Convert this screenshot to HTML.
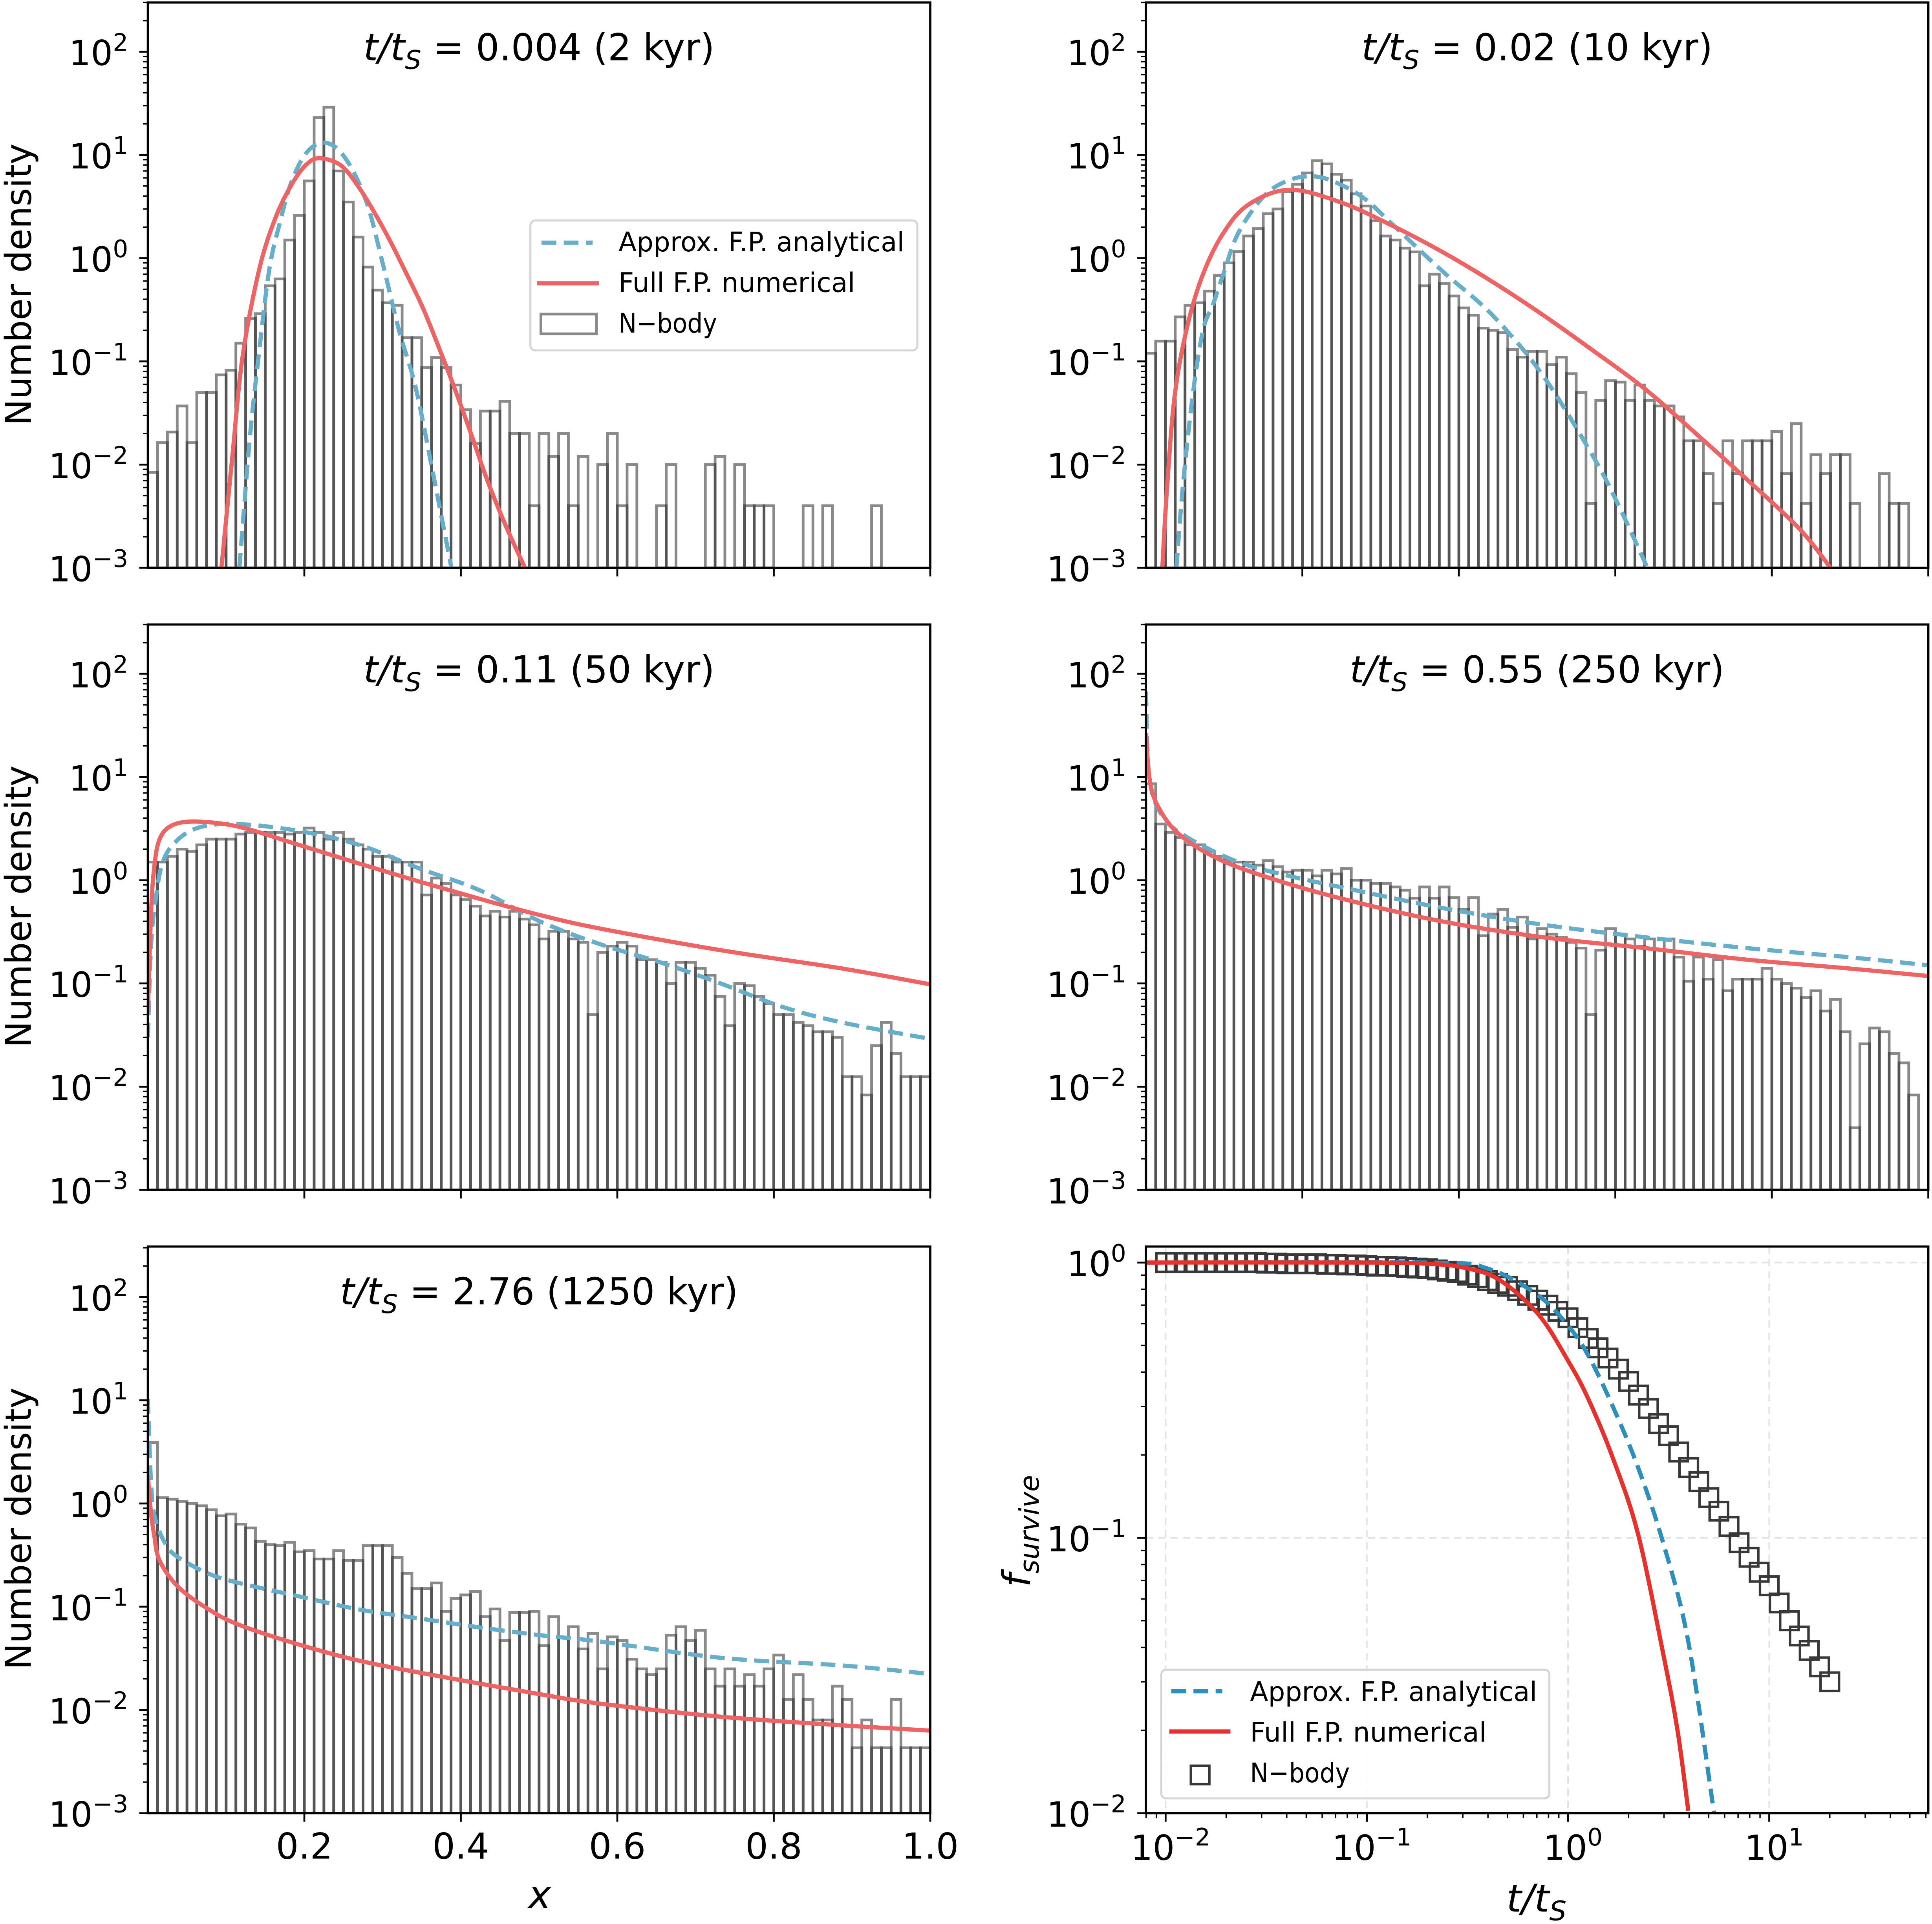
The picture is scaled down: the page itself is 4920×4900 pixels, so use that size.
<!DOCTYPE html>
<html><head><meta charset="utf-8">
<style>
html,body{margin:0;padding:0;background:#fff;}
svg{display:block;}
text{font-family:"DejaVu Sans","Liberation Sans",sans-serif;fill:#000;}
</style></head>
<body>
<svg id="fig" xmlns="http://www.w3.org/2000/svg" width="4920" height="4900" viewBox="0 0 1568 1562" preserveAspectRatio="none">
<rect x="0" y="0" width="1568" height="1562" fill="#fff"/>
</svg>
<script>
// ===== Histogram data (80 bins over x in [0,1]) =====
const hist1 = [0.0084,0.0163,0.0207,0.037,0.0163,0.05,0.05,0.074,0.082,0.15,
0.26,0.29,0.54,0.63,1.5,2.6,5.6,23,29,7,
3.5,1.6,0.82,0.49,0.37,0.35,0.17,0.17,0.087,0.109,
0.087,0.059,0.034,0.016,0.033,0.033,0.041,0.02,0.02,0.004,
0.02,0.012,0.02,0.004,0.012,0,0.01,0.02,0.004,0.01,
0,0,0.004,0.01,0,0,0,0.01,0.012,0,
0.01,0.004,0.004,0.004,0,0,0,0.004,0,0.004,
0,0,0,0,0.004,0,0,0,0,0];
const hist2 = [0.12,0.157,0.157,0.27,0.35,0.37,0.48,0.68,0.9,1.16,
1.64,1.94,2.7,3.0,4.4,5.2,6.7,8.8,8.2,6.5,
5.7,4.2,3.2,2.3,1.64,1.5,1.25,1.15,0.54,0.7,
0.57,0.43,0.33,0.28,0.21,0.2,0.19,0.13,0.11,0.125,
0.125,0.093,0.11,0.076,0.05,0.0042,0.042,0.065,0.063,0.042,
0.059,0.042,0.037,0.037,0.029,0.017,0.017,0.0082,0.0042,0.017,
0.0082,0.017,0.017,0.017,0.021,0.0082,0.025,0.0042,0.0125,0.0082,
0.0125,0.0125,0.0042,0,0,0.0082,0.0042,0.0042,0,0];
const hist3 = [1.5,1.5,1.7,2.0,1.9,2.2,2.5,2.5,2.5,2.8,
2.9,2.9,2.9,2.9,2.8,2.9,3.2,2.9,2.5,2.9,
2.5,2.2,2.0,1.7,1.7,1.5,1.5,1.5,0.72,1.05,
0.93,0.72,0.65,0.56,0.45,0.5,0.44,0.5,0.42,0.37,
0.27,0.32,0.32,0.27,0.25,0.05,0.2,0.23,0.25,0.23,
0.17,0.17,0.16,0.1,0.16,0.16,0.14,0.12,0.075,0.039,
0.1,0.095,0.075,0.064,0.05,0.05,0.042,0.039,0.034,0.034,
0.03,0.0125,0.0125,0.0083,0.025,0.042,0.021,0.0125,0.0125,0.0125];
const hist4 = [8.6,3.5,2.9,2.6,2.2,2.2,1.9,1.7,1.55,1.5,
1.5,1.4,1.55,1.35,1.2,1.25,1.25,1.1,1.25,1.15,
1.3,1.0,1.0,0.93,0.93,0.86,0.8,0.67,0.86,0.67,
0.86,0.68,0.52,0.68,0.29,0.47,0.52,0.35,0.44,0.27,
0.34,0.30,0.28,0.25,0.22,0.05,0.21,0.34,0.30,0.27,
0.23,0.27,0.21,0.27,0.18,0.105,0.18,0.11,0.17,0.085,
0.11,0.11,0.11,0.14,0.11,0.1,0.09,0.073,0.085,0.054,
0.07,0.034,0.004,0.026,0.037,0.034,0.021,0.017,0.0083,0];
const hist5 = [3.9,1.14,1.1,1.05,1.0,0.95,0.87,0.76,0.79,0.63,
0.58,0.43,0.40,0.39,0.42,0.34,0.35,0.29,0.29,0.35,
0.28,0.28,0.39,0.39,0.39,0.3,0.21,0.15,0.15,0.17,
0.09,0.12,0.13,0.14,0.08,0.095,0.047,0.088,0.088,0.09,
0.042,0.08,0.05,0.064,0.039,0.055,0.025,0.051,0.047,0.031,
0.025,0.022,0.025,0.053,0.064,0.047,0.059,0.025,0.017,0.025,
0.017,0.022,0.017,0.025,0.034,0.0126,0.022,0.0126,0.008,0.008,
0.017,0.0126,0.0043,0.008,0.0043,0.0043,0.0126,0.0043,0.0043,0.0043];

// ===== Curve data (x, density) =====
const c1RedX = [0.094,0.108,0.121,0.142,0.163,0.184,0.202,0.219,0.246,0.267,0.288,0.309,0.33,0.35,0.367,0.392,0.414,0.434,0.458,0.482];
const c1RedY = [0.001,0.012,0.11,0.76,2.45,5.2,8.0,9.3,8.0,5.2,2.9,1.5,0.72,0.35,0.17,0.055,0.019,0.007,0.0025,0.001];
const c1BlueX = [0.117,0.13,0.142,0.155,0.168,0.184,0.205,0.23,0.255,0.28,0.3,0.321,0.342,0.363,0.388];
const c1BlueY = [0.001,0.017,0.12,0.76,2.1,5.6,11,13,8.7,3.4,0.9,0.2,0.057,0.0094,0.001];
const c2RedX = [0.021,0.027,0.037,0.053,0.073,0.099,0.131,0.183,0.248,0.313,0.378,0.443,0.508,0.573,0.638,0.703,0.768,0.835,0.875];
const c2RedY = [0.001,0.0059,0.048,0.22,0.7,1.75,3.3,4.6,3.5,2.1,1.16,0.59,0.28,0.125,0.054,0.02,0.0072,0.0024,0.001];
const c2BlueX = [0.039,0.047,0.06,0.073,0.086,0.099,0.118,0.151,0.183,0.216,0.248,0.281,0.313,0.378,0.443,0.508,0.573,0.605,0.641];
const c2BlueY = [0.001,0.0059,0.048,0.2,0.36,0.7,1.75,4.0,5.7,6.2,5.2,3.7,2.2,0.76,0.28,0.072,0.0115,0.0039,0.001];
const c3RedX = [0,0.004,0.008,0.015,0.031,0.062,0.116,0.193,0.27,0.347,0.424,0.501,0.578,0.732,0.886,1.0];
const c3RedY = [0.054,0.47,1.3,2.5,3.4,3.7,3.3,2.2,1.45,0.97,0.66,0.46,0.34,0.21,0.14,0.098];
const c3BlueX = [0,0.004,0.009,0.019,0.039,0.069,0.116,0.193,0.27,0.347,0.424,0.501,0.578,0.655,0.732,0.809,0.886,1.0];
const c3BlueY = [0.03,0.23,0.57,1.5,2.5,3.3,3.5,3.0,2.2,1.3,0.8,0.4,0.24,0.16,0.1,0.06,0.042,0.029];
const c4RedX = [0,0.0045,0.0143,0.04,0.086,0.15,0.248,0.378,0.508,0.638,0.768,0.897,1.0];
const c4RedY = [26.6,9.8,5.4,2.9,1.7,1.1,0.67,0.4,0.28,0.22,0.17,0.14,0.118];
const c4BlueX = [0,0.0045,0.021,0.053,0.118,0.183,0.248,0.378,0.508,0.638,0.768,0.897,1.0];
const c4BlueY = [67,9.8,4.2,2.6,1.5,1.1,0.86,0.54,0.37,0.28,0.22,0.18,0.15];
const c5RedX = [0,0.004,0.008,0.015,0.039,0.077,0.116,0.193,0.27,0.347,0.424,0.501,0.578,0.732,0.886,1.0];
const c5RedY = [1.85,0.81,0.5,0.28,0.155,0.095,0.067,0.043,0.03,0.023,0.018,0.0142,0.0115,0.0086,0.0071,0.0063];
const c5BlueX = [0,0.004,0.009,0.023,0.039,0.077,0.116,0.193,0.27,0.347,0.424,0.501,0.578,0.732,0.886,1.0];
const c5BlueY = [10.3,1.6,0.73,0.4,0.3,0.21,0.17,0.126,0.094,0.077,0.063,0.053,0.046,0.032,0.027,0.0223];

// ===== Survival panel data =====
const survT = [0.0100,0.0112,0.0126,0.0141,0.0158,0.0178,0.0200,0.0224,0.0251,0.0282,
0.0316,0.0355,0.0398,0.0447,0.0501,0.0562,0.0631,0.0708,0.0794,0.0891,
0.100,0.112,0.126,0.141,0.158,0.178,0.200,0.224,0.251,0.282,
0.316,0.355,0.398,0.447,0.501,0.562,0.631,0.708,0.794,0.891,
1.00,1.12,1.26,1.41,1.58,1.78,2.00,2.24,2.51,2.82,
3.16,3.55,3.98,4.47,5.01,5.62,6.31,7.08,7.94,8.91,
10.0,11.2,12.6,14.1,15.8,17.8,20.0];
const survF = [1.0,1.0,1.0,1.0,1.0,1.0,1.0,1.0,1.0,1.0,
0.995,0.995,0.99,0.99,0.99,0.99,0.985,0.985,0.98,0.98,
0.975,0.97,0.97,0.965,0.96,0.955,0.95,0.94,0.93,0.92,
0.9,0.88,0.86,0.84,0.82,0.79,0.76,0.73,0.70,0.665,
0.63,0.58,0.53,0.49,0.45,0.41,0.37,0.33,0.295,0.26,
0.235,0.205,0.18,0.16,0.14,0.125,0.11,0.096,0.085,0.075,
0.067,0.058,0.05,0.044,0.039,0.034,0.030];
const fpRedT = [0.008,0.1,0.2,0.3,0.45,0.71,1.0,1.26,1.67,2.23,2.97,3.5,3.96];
const fpRedF = [1,1,0.99,0.96,0.87,0.65,0.44,0.32,0.195,0.103,0.038,0.02,0.0102];
const fpBlueT = [0.008,0.2,0.4,0.71,1.0,1.26,1.67,2.23,2.97,3.96,5.27,5.4];
const fpBlueF = [1,1,0.95,0.76,0.59,0.46,0.30,0.18,0.096,0.042,0.0105,0.0095];

const yTickExp = [-3,-2,-1,0,1,2];
const xTickVals = [0.2,0.4,0.6,0.8,1.0];
const xTickLabels = ["0.2","0.4","0.6","0.8","1.0"];
const sTickExpX = [-2,-1,0,1];
const sTickExpY = [-2,-1,0];
const titles = [["0.004","2"],["0.02","10"],["0.11","50"],["0.55","250"],["2.76","1250"]];

const NS = "http://www.w3.org/2000/svg";
const svg = document.getElementById('fig');
function mk(tag, attrs, parent){
  const e = document.createElementNS(NS, tag);
  for (const k in attrs) e.setAttribute(k, attrs[k]);
  (parent||svg).appendChild(e);
  return e;
}
const RED="#ee6464", BLUE="#67aecb", RED6="#e8302c", BLUE6="#2e8fbd";

const P = [
 {x:120,y:2,w:635,h:459},{x:930,y:2,w:635,h:459},
 {x:120,y:507,w:635,h:459},{x:930,y:507,w:635,h:459},
 {x:120,y:1012,w:635,h:460}
];
const DEC = 83.8;
function sx(p,v){return p.x + v*p.w;}
function sy(p,v){return p.y + p.h - (Math.log10(v)+3)*DEC;}

function spline(pts){
  let d = "M"+pts[0][0].toFixed(2)+","+pts[0][1].toFixed(2);
  for (let i=0;i<pts.length-1;i++){
    const p0=pts[Math.max(0,i-1)], p1=pts[i], p2=pts[i+1], p3=pts[Math.min(pts.length-1,i+2)];
    const c1x=p1[0]+(p2[0]-p0[0])/6, c1y=p1[1]+(p2[1]-p0[1])/6;
    const c2x=p2[0]-(p3[0]-p1[0])/6, c2y=p2[1]-(p3[1]-p1[1])/6;
    d += " C"+c1x.toFixed(2)+","+c1y.toFixed(2)+" "+c2x.toFixed(2)+","+c2y.toFixed(2)+" "+p2[0].toFixed(2)+","+p2[1].toFixed(2);
  }
  return d;
}

function sup(parent, x, y, base, exp, size, anchor){
  const t = mk('text', {x:x, y:y, 'font-size':size, 'text-anchor':anchor||'end'}, parent);
  t.appendChild(document.createTextNode(base));
  const s = mk('tspan', {'font-size':size*0.7, dy:-size*0.42}, t);
  s.textContent = exp;
  return t;
}

function title(g, p, vals){
  const cx = p.x + p.w/2, y = p.y + 47;
  const t = mk('text', {x:cx, y:y, 'font-size':30, 'text-anchor':'middle'}, g);
  
  
  const a = mk('tspan', {'font-style':'italic'}, t); a.textContent = "t/t";
  const b = mk('tspan', {'font-style':'italic','font-size':21, dy:7}, t); b.textContent = "S";
  const c = mk('tspan', {dy:-7}, t); c.textContent = " = " + vals[0] + " (" + vals[1] + " kyr)";
}

const hists = [hist1,hist2,hist3,hist4,hist5];
const curves = [[c1BlueX,c1BlueY,c1RedX,c1RedY],[c2BlueX,c2BlueY,c2RedX,c2RedY],[c3BlueX,c3BlueY,c3RedX,c3RedY],[c4BlueX,c4BlueY,c4RedX,c4RedY],[c5BlueX,c5BlueY,c5RedX,c5RedY]];

P.forEach((p, k) => {
  const g = mk('g', {});
  
  
  const clipId = 'clip'+k;
  const cp = mk('clipPath', {id:clipId}, g);
  mk('rect', {x:p.x, y:p.y, width:p.w, height:p.h}, cp);
  const bg = mk('g', {'clip-path':'url(#'+clipId+')'}, g);
  
  
  const data = hists[k]; const n = data.length;
  for (let i=0;i<n;i++){
    if (data[i] <= 0) continue;
    const x0 = sx(p, i/n), x1 = sx(p,(i+1)/n), yt = sy(p, data[i]);
    const r = mk('rect', {x:x0, y:yt, width:x1-x0, height:p.y+p.h-yt, fill:'none', stroke:'rgba(40,40,40,0.55)', 'stroke-width':2.2}, bg);
    
    
  }
  const cv = curves[k];
  const bp = cv[0].map((v,i)=>[sx(p,v), sy(p,cv[1][i])]);
  const rp = cv[2].map((v,i)=>[sx(p,v), sy(p,cv[3][i])]);
  const blue = mk('path', {d:spline(bp), fill:'none', stroke:BLUE, 'stroke-width':3.4, 'stroke-dasharray':'12,6', 'clip-path':'url(#'+clipId+')'}, g);
  
  
  const red = mk('path', {d:spline(rp), fill:'none', stroke:RED, 'stroke-width':3.4, 'clip-path':'url(#'+clipId+')'}, g);
  
  
  const fr = mk('rect', {x:p.x, y:p.y, width:p.w, height:p.h, fill:'none', stroke:'#000', 'stroke-width':1.8}, g);
  
  
  const yt = mk('g', {}, g);
  
  
  for (let e=-3;e<=2;e++){
    for (let m=1;m<10;m++){
      const v = m*Math.pow(10,e); const yy = sy(p,v);
      if (yy < p.y) continue;
      const L = m===1?7:4;
      mk('line', {x1:p.x-L, x2:p.x, y1:yy, y2:yy, stroke:'#000', 'stroke-width':m===1?1.5:1.1}, yt);
    }
  }
  yTickExp.forEach(e => {
    const lab = sup(yt, p.x-16, sy(p,Math.pow(10,e))+11, "10", e<0?("\u2212"+(-e)):String(e), 28, 'end');
    
    
  });
  const xt = mk('g', {}, g);
  
  
  xTickVals.forEach((v,i) => {
    const xx = sx(p,v);
    mk('line', {x1:xx, x2:xx, y1:p.y+p.h, y2:p.y+p.h+7, stroke:'#000', 'stroke-width':1.5}, xt);
    if (k===4){
      const t = mk('text', {x:xx, y:p.y+p.h+37, 'font-size':29, 'text-anchor':'middle'}, xt);
      t.textContent = xTickLabels[i];
      
      
    }
  });
  if (k%2===0){
    const yl = mk('text', {x:0, y:0, 'font-size':29, 'text-anchor':'middle', transform:'translate(25,'+(p.y+229)+') rotate(-90)', textLength:229, lengthAdjust:'spacingAndGlyphs'}, g);
    yl.textContent = "Number density";
    
    
  }
  title(g, p, titles[k]);
});

{
  const t = mk('text', {x:438, y:1549, 'font-size':31, 'text-anchor':'middle', 'font-style':'italic'});
  t.textContent = "x";
  
  
}

{
  const g = mk('g', {});
  
  
  mk('rect', {x:430.5, y:179, width:314, height:105.5, rx:4, fill:'#fff', stroke:'#d4d4d4', 'stroke-width':1.6}, g);
  mk('line', {x1:439.5, x2:481, y1:197, y2:197, stroke:BLUE, 'stroke-width':3.4, 'stroke-dasharray':'12,6'}, g);
  mk('line', {x1:436, x2:486, y1:230, y2:230, stroke:RED, 'stroke-width':3.4}, g);
  mk('rect', {x:439, y:255, width:45, height:16, fill:'none', stroke:'rgba(40,40,40,0.55)', 'stroke-width':2.2}, g);
  const L = [["Approx. F.P. analytical",204,232],["Full F.P. numerical",237,192],["N\u2212body",270,80]];
  L.forEach(l => {
    const t = mk('text', {x:502, y:l[1], 'font-size':22, textLength:l[2], lengthAdjust:'spacingAndGlyphs'}, g);
    t.textContent = l[0];
    
    
  });
}

{
  const p = {x:930, y:1012, w:635, h:460};
  const lxd = 163.3, lyd = 223.5, yTop = 1025;
  const X = t => 946 + (Math.log10(t)+2)*lxd;
  const Y = f => yTop - Math.log10(f)*lyd;
  const g = mk('g', {});
  
  
  const cp = mk('clipPath', {id:'clip6'}, g);
  mk('rect', {x:p.x, y:p.y, width:p.w, height:p.h}, cp);
  const gr = mk('g', {stroke:'#e3e3e3', 'stroke-width':1.3, 'stroke-dasharray':'6,4'}, g);
  
  
  sTickExpX.forEach(e => { const xx = X(Math.pow(10,e)); mk('line', {x1:xx,x2:xx,y1:p.y,y2:p.y+p.h}, gr); });
  sTickExpY.forEach(e => { const yy = Y(Math.pow(10,e)); mk('line', {x1:p.x,x2:p.x+p.w,y1:yy,y2:yy}, gr); });
  const sg = mk('g', {'clip-path':'url(#clip6)'}, g);
  
  
  survT.forEach((t,i) => {
    const cx = X(t), cy = Y(survF[i]);
    const r = mk('rect', {x:cx-7.5, y:cy-7.5, width:15, height:15, fill:'none', stroke:'#383838', 'stroke-width':2}, sg);
    
    
  });
  const bp = fpBlueT.map((t,i)=>[X(t),Y(fpBlueF[i])]);
  const rp = fpRedT.map((t,i)=>[X(t),Y(fpRedF[i])]);
  const b = mk('path', {d:spline(bp), fill:'none', stroke:BLUE6, 'stroke-width':3.4, 'stroke-dasharray':'12,6', 'clip-path':'url(#clip6)'}, g);
  
  
  const r = mk('path', {d:spline(rp), fill:'none', stroke:RED6, 'stroke-width':3.4, 'clip-path':'url(#clip6)'}, g);
  
  
  const fr = mk('rect', {x:p.x, y:p.y, width:p.w, height:p.h, fill:'none', stroke:'#000', 'stroke-width':1.8}, g);
  
  
  const xt = mk('g', {}, g);
  
  
  for (let e=-3;e<=1;e++){
    for (let m=1;m<10;m++){
      const xx = X(m*Math.pow(10,e));
      if (xx < p.x || xx > p.x+p.w) continue;
      const L = m===1?7:4;
      mk('line', {x1:xx,x2:xx,y1:p.y+p.h,y2:p.y+p.h+L, stroke:'#000','stroke-width':m===1?1.5:1.1}, xt);
    }
  }
  sTickExpX.forEach(e => {
    const lab = sup(xt, X(Math.pow(10,e))+4, 1510, "10", e<0?("\u2212"+(-e)):String(e), 28, 'middle');
    
    
  });
  const yt = mk('g', {}, g);
  
  
  for (let e=-2;e<=0;e++){
    for (let m=1;m<10;m++){
      const yy = Y(m*Math.pow(10,e));
      if (yy < p.y || yy > p.y+p.h+0.5) continue;
      const L = m===1?7:4;
      mk('line', {x1:p.x-L,x2:p.x,y1:yy,y2:yy, stroke:'#000','stroke-width':m===1?1.5:1.1}, yt);
    }
  }
  sTickExpY.forEach(e => {
    const lab = sup(yt, 914, Y(Math.pow(10,e))+11, "10", e<0?("\u2212"+(-e)):String(e), 28, 'end');
    
    
  });
  const xl = mk('text', {x:1247, y:1552, 'font-size':31, 'text-anchor':'middle', 'font-style':'italic'}, g);
  
  
  const a1 = mk('tspan', {}, xl); a1.textContent = "t/t";
  const a2 = mk('tspan', {'font-size':22, dy:7}, xl); a2.textContent = "S";
  const yl = mk('text', {x:0, y:0, 'font-size':31, 'text-anchor':'middle', 'font-style':'italic', transform:'translate(836,1243) rotate(-90)'}, g);
  
  
  const b1 = mk('tspan', {}, yl); b1.textContent = "f";
  const b2 = mk('tspan', {'font-size':22, dy:7}, yl); b2.textContent = "survive";
  const lg = mk('g', {}, g);
  
  
  mk('rect', {x:942.5, y:1355.5, width:315, height:104.5, rx:4, fill:'#fff', 'fill-opacity':0.85, stroke:'#d4d4d4', 'stroke-width':1.6}, lg);
  mk('line', {x1:950.6, x2:992, y1:1373, y2:1373, stroke:BLUE6, 'stroke-width':3.4, 'stroke-dasharray':'12,6'}, lg);
  mk('line', {x1:949, x2:998.6, y1:1405.7, y2:1405.7, stroke:RED6, 'stroke-width':3.4}, lg);
  mk('rect', {x:966.5, y:1433.5, width:15, height:15, fill:'none', stroke:'#383838', 'stroke-width':2}, lg);
  const L = [["Approx. F.P. analytical",1381,233],["Full F.P. numerical",1414,192],["N\u2212body",1447,81]];
  L.forEach(l => {
    const t = mk('text', {x:1014.5, y:l[1], 'font-size':22, textLength:l[2], lengthAdjust:'spacingAndGlyphs'}, lg);
    t.textContent = l[0];
    
    
  });
}
</script>
</body></html>
